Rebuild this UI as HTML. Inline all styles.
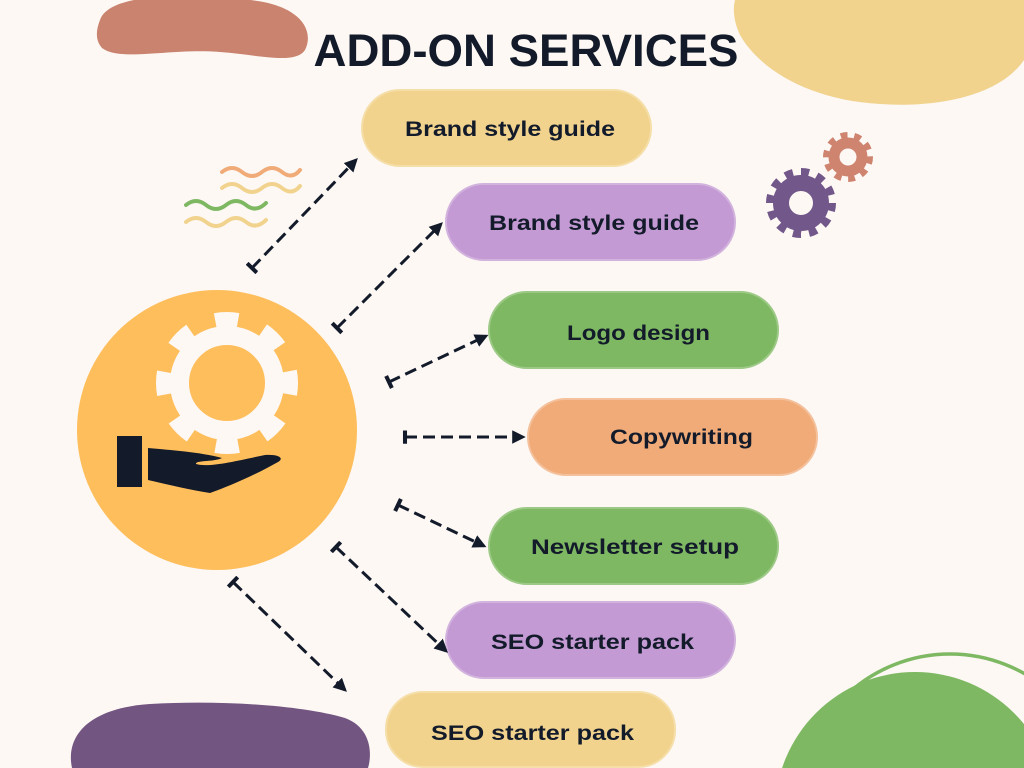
<!DOCTYPE html>
<html><head><meta charset="utf-8"><style>
html,body{margin:0;padding:0;background:#FDF8F4;width:1024px;height:768px;overflow:hidden;}
svg{display:block}
text{font-family:"Liberation Sans",sans-serif;font-weight:bold;fill:#131B2B}
</style></head><body>
<svg width="1024" height="768" viewBox="0 0 1024 768" xmlns="http://www.w3.org/2000/svg">
<rect width="1024" height="768" fill="#FDF8F4"/>
<!-- blobs -->
<path d="M100,20 C110,-10 200,-5 250,0 C300,5 315,30 305,50 C295,65 260,55 220,52 C170,48 120,62 102,48 C95,40 96,30 100,20Z" fill="#C9836E"/>
<path d="M735,0 L1024,0 L1024,60 C1000,95 940,108 880,104 C810,100 760,70 740,35 C733,20 733,8 735,0Z" fill="#F1D38E"/>
<path d="M72,768 C65,735 90,708 150,704 C220,700 300,705 345,718 C372,728 372,755 368,768Z" fill="#735581"/>
<circle cx="915" cy="812" r="140" fill="#7EB862"/>
<circle cx="950" cy="805" r="151" fill="none" stroke="#7EB862" stroke-width="3.5"/>
<!-- title -->
<text x="526" y="66" font-size="45" text-anchor="middle" textLength="425" lengthAdjust="spacingAndGlyphs">ADD-ON SERVICES</text>
<!-- waves -->
<g fill="none" stroke-width="4" stroke-linecap="round">
<path d="M222,172 q10,-8 20,0 t20,0 t20,0 t18,-2" stroke="#F0AB78"/>
<path d="M222,188 q10,-8 20,0 t20,0 t20,0 t18,-2" stroke="#F1D38E"/>
<path d="M186,205 q10,-8 20,0 t20,0 t20,0 t20,-2" stroke="#7EB862"/>
<path d="M186,222 q10,-8 20,0 t20,0 t20,0 t20,-2" stroke="#F1D38E"/>
</g>
<!-- small gears -->
<g>
<circle cx="801" cy="203" r="30" fill="none" stroke="#72578A" stroke-width="10" pathLength="120" stroke-dasharray="5 5"/>
<circle cx="801" cy="203" r="20" fill="none" stroke="#72578A" stroke-width="16"/>
<circle cx="848" cy="157" r="21" fill="none" stroke="#CF8470" stroke-width="8" pathLength="100" stroke-dasharray="5 5"/>
<circle cx="848" cy="157" r="14" fill="none" stroke="#CF8470" stroke-width="11"/>
</g>
<!-- main circle -->
<circle cx="217" cy="430" r="140" fill="#FEBE5C"/>
<circle cx="227" cy="383" r="63" fill="none" stroke="#FDF8F4" stroke-width="16" pathLength="80" stroke-dasharray="4.6 5.4" stroke-dashoffset="2.3"/>
<circle cx="227" cy="383" r="47.5" fill="none" stroke="#FDF8F4" stroke-width="19"/>
<rect x="117" y="436" width="25" height="51" fill="#131B2B"/>
<path d="M148,448 C170,450 200,452 222,458 C215,462 195,460 196,464 C210,468 240,460 265,455 C278,454 285,458 278,462 C255,475 230,486 210,493 C190,490 170,485 148,480Z" fill="#131B2B"/>
<!-- pills -->
<g stroke-width="2">
<rect x="362" y="90" width="289" height="76" rx="38" fill="#F1D38E" stroke="#F5DEA8"/>
<rect x="446" y="184" width="289" height="76" rx="38" fill="#C39AD3" stroke="#D2B3DE"/>
<rect x="489" y="292" width="289" height="76" rx="38" fill="#7EB862" stroke="#9CC985"/>
<rect x="528" y="399" width="289" height="76" rx="38" fill="#F0AB78" stroke="#F4C19C"/>
<rect x="489" y="508" width="289" height="76" rx="38" fill="#7EB862" stroke="#9CC985"/>
<rect x="446" y="602" width="289" height="76" rx="38" fill="#C39AD3" stroke="#D2B3DE"/>
<rect x="386" y="692" width="289" height="75" rx="37" fill="#F1D38E" stroke="#F5DEA8"/>
</g>
<g font-size="21">
<text x="405" y="136" textLength="210" lengthAdjust="spacingAndGlyphs">Brand style guide</text>
<text x="489" y="230" textLength="210" lengthAdjust="spacingAndGlyphs">Brand style guide</text>
<text x="567" y="340" textLength="143" lengthAdjust="spacingAndGlyphs">Logo design</text>
<text x="610" y="444" textLength="143" lengthAdjust="spacingAndGlyphs">Copywriting</text>
<text x="531" y="554" textLength="208" lengthAdjust="spacingAndGlyphs">Newsletter setup</text>
<text x="491" y="649" textLength="203" lengthAdjust="spacingAndGlyphs">SEO starter pack</text>
<text x="431" y="740" textLength="203" lengthAdjust="spacingAndGlyphs">SEO starter pack</text>
</g>
<!-- connectors -->
<defs>
<marker id="ah" viewBox="0 0 10 10" refX="8" refY="5" markerWidth="4.5" markerHeight="4.5" orient="auto"><path d="M0,0 L10,5 L0,10Z" fill="#131B2B"/></marker>
<marker id="tb" viewBox="0 0 10 10" refX="5" refY="5" markerWidth="4.5" markerHeight="4.5" orient="auto"><path d="M5,0 L5,10" stroke="#131B2B" stroke-width="3"/></marker>
</defs>
<g stroke="#131B2B" stroke-width="3" stroke-dasharray="12 6" fill="none" marker-start="url(#tb)" marker-end="url(#ah)">
<line x1="252" y1="268" x2="356" y2="160"/>
<line x1="337" y1="328" x2="441" y2="224"/>
<line x1="389" y1="382" x2="486" y2="336"/>
<line x1="405" y1="437" x2="523" y2="437"/>
<line x1="398" y1="505" x2="484" y2="546"/>
<line x1="336" y1="547" x2="446" y2="651"/>
<line x1="233" y1="582" x2="345" y2="690"/>
</g>
</svg>
</body></html>
